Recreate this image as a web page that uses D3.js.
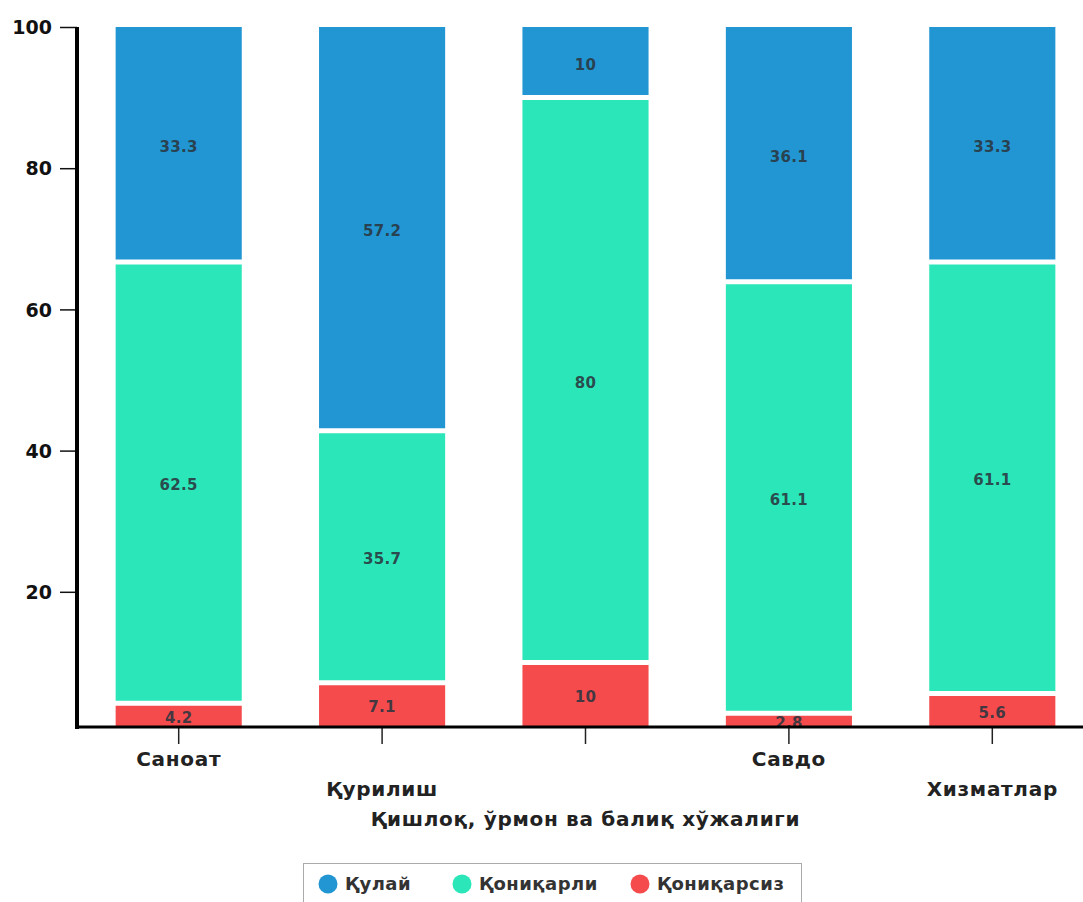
<!DOCTYPE html>
<html><head><meta charset="utf-8">
<script src="https://cdn.jsdelivr.net/npm/d3@7"></script>
<style>
html,body{margin:0;padding:0;background:#fff;}
svg{display:block;font-family:"DejaVu Sans",sans-serif;}
</style></head>
<body>
<svg id="chart" width="1083" height="902"></svg>
<script>
const categories = ["Саноат","Қурилиш","Қишлоқ, ўрмон ва балиқ хўжалиги","Савдо","Хизматлар"];
const seriesNames = ["Қониқарсиз","Қониқарли","Қулай"];
const qoniqarsiz = [4.2, 7.1, 10, 2.8, 5.6];
const qoniqarli = [62.5, 35.7, 80, 61.1, 61.1];
const qulay = [33.3, 57.2, 10, 36.1, 33.3];
const yTicks = [20, 40, 60, 80, 100];
const colors = {"Қулай":"#2196d3","Қониқарли":"#2be6b8","Қониқарсиз":"#f54b4c"};
const legendOrder = ["Қулай","Қониқарли","Қониқарсиз"];

const FONT = "'DejaVu Sans', sans-serif";
const AXIS_Y = 727;
const svg = d3.select("#chart");
const x = d3.scaleBand().domain(categories).range([77, 1094]).paddingInner(0.38).paddingOuter(0.19);
const y = d3.scaleLinear().domain([0, 100]).range([733, 27]);

svg.append("defs").append("clipPath").attr("id", "plotclip")
  .append("rect").attr("x", 77).attr("y", 0).attr("width", 1100).attr("height", AXIS_Y);

const rows = categories.map((c, i) => ({cat: c, "Қониқарсиз": qoniqarsiz[i], "Қониқарли": qoniqarli[i], "Қулай": qulay[i]}));
const stacked = d3.stack().keys(seriesNames)(rows);

const g = svg.append("g").attr("clip-path", "url(#plotclip)");
stacked.forEach(layer => {
  g.selectAll(null).data(layer).enter().append("rect")
    .attr("x", d => x(d.data.cat))
    .attr("width", x.bandwidth())
    .attr("y", d => y(d[1]))
    .attr("height", d => y(d[0]) - y(d[1]))
    .attr("fill", colors[layer.key]);
});
stacked.slice(0, -1).forEach(layer => {
  g.selectAll(null).data(layer).enter().append("line")
    .attr("x1", d => x(d.data.cat) - 1)
    .attr("x2", d => x(d.data.cat) + x.bandwidth() + 1)
    .attr("y1", d => y(d[1]))
    .attr("y2", d => y(d[1]))
    .attr("stroke", "#fff").attr("stroke-width", 5);
});
stacked.forEach(layer => {
  g.selectAll(null).data(layer).enter().append("text")
    .attr("x", d => x(d.data.cat) + x.bandwidth() / 2)
    .attr("y", d => (y(d[1]) + Math.min(y(d[0]), AXIS_Y)) / 2 + 3)
    .attr("text-anchor", "middle").attr("dominant-baseline", "middle")
    .attr("font-size", 15).attr("font-weight", 700).attr("letter-spacing", 0.3)
    .attr("fill", "#2a3640").attr("fill-opacity", 0.9)
    .text(d => d.data[layer.key]);
});

const yAxis = svg.append("g").attr("transform", "translate(77,0)")
  .call(d3.axisLeft(y).tickValues(yTicks).tickSize(17).tickPadding(8));
yAxis.select(".domain").remove();
yAxis.selectAll(".tick line").attr("stroke", "#111").attr("stroke-width", 1.5);
yAxis.selectAll(".tick text").attr("font-size", 19).attr("font-weight", 700).attr("fill", "#111")
  .attr("font-family", FONT).attr("dy", "0.35em");
svg.append("line").attr("x1", 77).attr("x2", 77).attr("y1", y(100)).attr("y2", AXIS_Y + 2)
  .attr("stroke", "#000").attr("stroke-width", 4);

const xAxis = svg.append("g").attr("transform", `translate(0,${AXIS_Y + 1})`)
  .call(d3.axisBottom(x).tickSize(16).tickPadding(6));
xAxis.select(".domain").remove();
xAxis.selectAll(".tick line").attr("stroke", "#222").attr("stroke-width", 1.5);
xAxis.selectAll(".tick text")
  .attr("font-size", 20).attr("font-weight", 700).attr("fill", "#222").attr("letter-spacing", 0.7)
  .attr("font-family", FONT)
  .attr("y", (d, i) => 31 + (i % 3) * 30).attr("dy", "0.35em");
svg.append("line").attr("x1", 75).attr("x2", 1083).attr("y1", AXIS_Y).attr("y2", AXIS_Y)
  .attr("stroke", "#000").attr("stroke-width", 3);

const lg = svg.append("g");
lg.append("rect").attr("x", 303.5).attr("y", 863.5).attr("width", 498).attr("height", 50)
  .attr("fill", "#fff").attr("stroke", "#aaa").attr("stroke-width", 1);
const legX = [328, 462, 640];
legendOrder.forEach((k, i) => {
  lg.append("circle").attr("cx", legX[i]).attr("cy", 884).attr("r", 9.5).attr("fill", colors[k]);
  lg.append("text").attr("x", legX[i] + 17).attr("y", 884).attr("dy", "0.35em")
    .attr("font-size", 18).attr("font-weight", 700).attr("letter-spacing", 0.5).attr("fill", "#333").text(k);
});
</script>
</body></html>
